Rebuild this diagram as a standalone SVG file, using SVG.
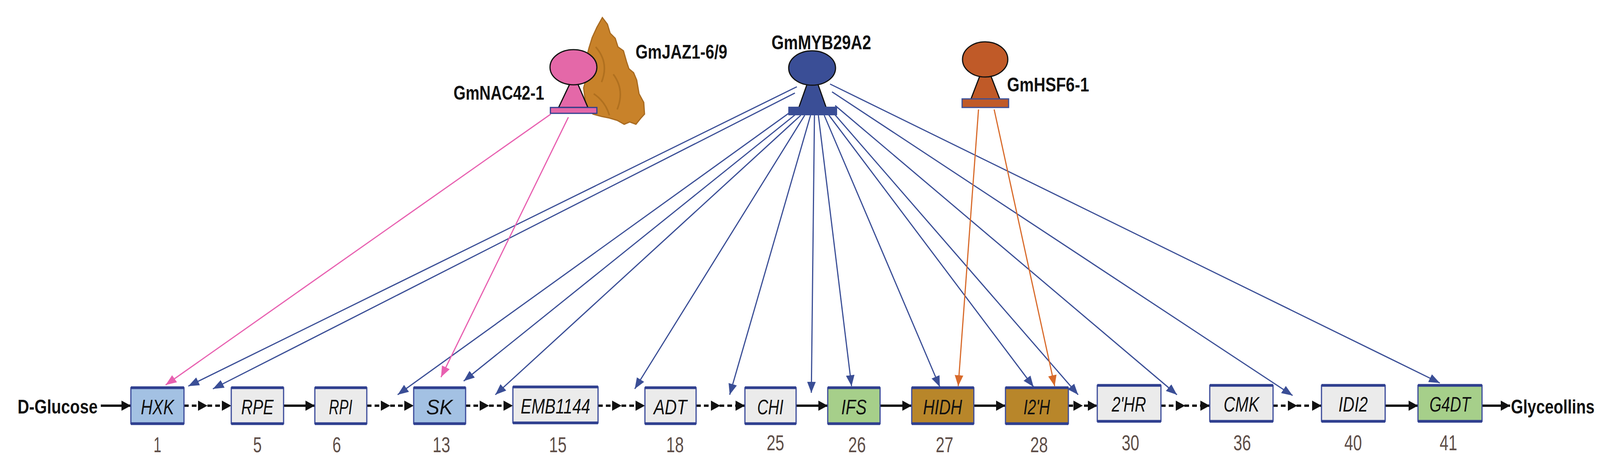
<svg xmlns="http://www.w3.org/2000/svg" width="4124" height="1200" viewBox="0 0 4124 1200">
<style>
.bx{stroke:#3a4a9a;stroke-width:3}
.bd{stroke:#2f3f8f;stroke-width:7}
.gt{font-family:"Liberation Sans",sans-serif;font-style:italic;font-size:54px;text-anchor:middle;fill:#111}
.num{font-family:"Liberation Sans",sans-serif;font-size:56px;text-anchor:middle;fill:#5e4e48}
.lb{font-family:"Liberation Sans",sans-serif;font-weight:bold;font-size:50px;fill:#111}
.sol{stroke:#111;stroke-width:6;fill:none;marker-end:url(#ak)}
.das{stroke:#111;stroke-width:6;fill:none;stroke-dasharray:12 8;marker-mid:url(#ak);marker-end:url(#ak)}
.bl{stroke:#3a4e96;stroke-width:3;fill:none;marker-end:url(#ab)}
.pk{stroke:#e860b0;stroke-width:3;fill:none;marker-end:url(#ap)}
.or{stroke:#d86a2a;stroke-width:3;fill:none;marker-end:url(#ao)}
</style>
<defs>
<marker id="ak" markerUnits="userSpaceOnUse" markerWidth="26" markerHeight="26" refX="24" refY="13" orient="auto"><path d="M0,0 L24,13 L0,26 Z" fill="#111"/></marker>
<marker id="ab" markerUnits="userSpaceOnUse" markerWidth="30" markerHeight="26" refX="28" refY="13" orient="auto"><path d="M0,2 L28,13 L0,24 Z" fill="#3a4e96"/></marker>
<marker id="ap" markerUnits="userSpaceOnUse" markerWidth="30" markerHeight="26" refX="28" refY="13" orient="auto"><path d="M0,2 L28,13 L0,24 Z" fill="#e860b0"/></marker>
<marker id="ao" markerUnits="userSpaceOnUse" markerWidth="30" markerHeight="26" refX="28" refY="13" orient="auto"><path d="M0,2 L28,13 L0,24 Z" fill="#d86a2a"/></marker>
</defs>
<rect width="4124" height="1200" fill="#fff"/>

<g id="connectors">
<path class="sol" d="M258,1038 L335,1038"/>
<path class="das" d="M471,1038 L531,1038 L592,1038"/>
<path class="sol" d="M726,1038 L806,1038"/>
<path class="das" d="M939,1038 L999,1038 L1059,1038"/>
<path class="das" d="M1192,1038 L1252,1038 L1313,1038"/>
<path class="das" d="M1531,1038 L1591,1038 L1651,1038"/>
<path class="das" d="M1782,1038 L1844,1038 L1907,1038"/>
<path class="sol" d="M2038,1038 L2119,1038"/>
<path class="sol" d="M2253,1038 L2334,1038"/>
<path class="sol" d="M2493,1038 L2574,1038"/>
<path class="das" d="M2735,1038 L2772,1038 L2809,1038"/>
<path class="das" d="M2972,1038 L3034,1038 L3097,1038"/>
<path class="das" d="M3259,1038 L3321,1038 L3383,1038"/>
<path class="sol" d="M3546,1038 L3630,1038"/>
<path class="sol" d="M3794,1038 L3866,1038"/>

<path class="bl" d="M2040,222 L482,988"/>
<path class="bl" d="M2035,238 L545,995"/>
<path class="bl" d="M2030,282 L1018,1010"/>
<path class="bl" d="M2040,290 L1187,975"/>
<path class="bl" d="M2050,295 L1268,1010"/>
<path class="bl" d="M2060,295 L1625,995"/>
<path class="bl" d="M2075,295 L1868,1010"/>
<path class="bl" d="M2085,295 L2077,1005"/>
<path class="bl" d="M2095,295 L2180,988"/>
<path class="bl" d="M2110,295 L2406,990"/>
<path class="bl" d="M2120,292 L2646,990"/>
<path class="bl" d="M2130,285 L2760,1010"/>
<path class="bl" d="M2138,270 L3013,1010"/>
<path class="bl" d="M2130,235 L3309,1012"/>
<path class="bl" d="M2125,215 L3686,980"/>

<path class="pk" d="M1410,292 L424,985"/>
<path class="pk" d="M1455,300 L1129,965"/>
<path class="or" d="M2505,280 L2453,988"/>
<path class="or" d="M2545,280 L2700,988"/>
</g>

<text class="lb" x="45" y="1058" textLength="205" lengthAdjust="spacingAndGlyphs">D-Glucose</text>
<text class="lb" x="3868" y="1058" textLength="214" lengthAdjust="spacingAndGlyphs">Glyceollins</text>

<g id="HXK"><rect class="bx" x="335" y="992" width="136" height="92" fill="#a3c1e3"/><line class="bd" x1="335" y1="992" x2="471" y2="992"/><line class="bd" x1="335" y1="1084" x2="471" y2="1084"/><text class="gt" x="403" y="1060" textLength="85" lengthAdjust="spacingAndGlyphs">HXK</text><text class="num" x="403" y="1157" textLength="20" lengthAdjust="spacingAndGlyphs">1</text></g>
<g id="RPE"><rect class="bx" x="592" y="992" width="134" height="92" fill="#ebebeb"/><line class="bd" x1="592" y1="992" x2="726" y2="992"/><line class="bd" x1="592" y1="1084" x2="726" y2="1084"/><text class="gt" x="659" y="1060" textLength="83" lengthAdjust="spacingAndGlyphs">RPE</text><text class="num" x="659" y="1157" textLength="22" lengthAdjust="spacingAndGlyphs">5</text></g>
<g id="RPI"><rect class="bx" x="806" y="992" width="133" height="92" fill="#ebebeb"/><line class="bd" x1="806" y1="992" x2="939" y2="992"/><line class="bd" x1="806" y1="1084" x2="939" y2="1084"/><text class="gt" x="872" y="1060" textLength="60" lengthAdjust="spacingAndGlyphs">RPI</text><text class="num" x="862" y="1157" textLength="22" lengthAdjust="spacingAndGlyphs">6</text></g>
<g id="SK"><rect class="bx" x="1059" y="992" width="133" height="92" fill="#a3c1e3"/><line class="bd" x1="1059" y1="992" x2="1192" y2="992"/><line class="bd" x1="1059" y1="1084" x2="1192" y2="1084"/><text class="gt" x="1125" y="1060" textLength="68" lengthAdjust="spacingAndGlyphs">SK</text><text class="num" x="1130" y="1157" textLength="45" lengthAdjust="spacingAndGlyphs">13</text></g>
<g id="EMB1144"><rect class="bx" x="1313" y="990" width="218" height="92" fill="#ebebeb"/><line class="bd" x1="1313" y1="990" x2="1531" y2="990"/><line class="bd" x1="1313" y1="1082" x2="1531" y2="1082"/><text class="gt" x="1422" y="1058" textLength="178" lengthAdjust="spacingAndGlyphs">EMB1144</text><text class="num" x="1428" y="1157" textLength="45" lengthAdjust="spacingAndGlyphs">15</text></g>
<g id="ADT"><rect class="bx" x="1651" y="992" width="131" height="92" fill="#ebebeb"/><line class="bd" x1="1651" y1="992" x2="1782" y2="992"/><line class="bd" x1="1651" y1="1084" x2="1782" y2="1084"/><text class="gt" x="1716" y="1060" textLength="85" lengthAdjust="spacingAndGlyphs">ADT</text><text class="num" x="1728" y="1157" textLength="45" lengthAdjust="spacingAndGlyphs">18</text></g>
<g id="CHI"><rect class="bx" x="1907" y="992" width="131" height="92" fill="#ebebeb"/><line class="bd" x1="1907" y1="992" x2="2038" y2="992"/><line class="bd" x1="1907" y1="1084" x2="2038" y2="1084"/><text class="gt" x="1972" y="1060" textLength="67" lengthAdjust="spacingAndGlyphs">CHI</text><text class="num" x="1985" y="1152" textLength="45" lengthAdjust="spacingAndGlyphs">25</text></g>
<g id="IFS"><rect class="bx" x="2119" y="992" width="134" height="92" fill="#a6cf8a"/><line class="bd" x1="2119" y1="992" x2="2253" y2="992"/><line class="bd" x1="2119" y1="1084" x2="2253" y2="1084"/><text class="gt" x="2186" y="1060" textLength="65" lengthAdjust="spacingAndGlyphs">IFS</text><text class="num" x="2194" y="1157" textLength="45" lengthAdjust="spacingAndGlyphs">26</text></g>
<g id="HIDH"><rect class="bx" x="2334" y="992" width="159" height="92" fill="#b8862a"/><line class="bd" x1="2334" y1="992" x2="2493" y2="992"/><line class="bd" x1="2334" y1="1084" x2="2493" y2="1084"/><text class="gt" x="2413" y="1060" textLength="100" lengthAdjust="spacingAndGlyphs">HIDH</text><text class="num" x="2418" y="1157" textLength="45" lengthAdjust="spacingAndGlyphs">27</text></g>
<g id="I2H"><rect class="bx" x="2574" y="992" width="161" height="92" fill="#b8862a"/><line class="bd" x1="2574" y1="992" x2="2735" y2="992"/><line class="bd" x1="2574" y1="1084" x2="2735" y2="1084"/><text class="gt" x="2654" y="1060" textLength="68" lengthAdjust="spacingAndGlyphs">I2'H</text><text class="num" x="2660" y="1157" textLength="45" lengthAdjust="spacingAndGlyphs">28</text></g>
<g id="HR"><rect class="bx" x="2809" y="986" width="163" height="92" fill="#ebebeb"/><line class="bd" x1="2809" y1="986" x2="2972" y2="986"/><line class="bd" x1="2809" y1="1078" x2="2972" y2="1078"/><text class="gt" x="2890" y="1053" textLength="88" lengthAdjust="spacingAndGlyphs">2'HR</text><text class="num" x="2894" y="1152" textLength="45" lengthAdjust="spacingAndGlyphs">30</text></g>
<g id="CMK"><rect class="bx" x="3097" y="986" width="162" height="92" fill="#ebebeb"/><line class="bd" x1="3097" y1="986" x2="3259" y2="986"/><line class="bd" x1="3097" y1="1078" x2="3259" y2="1078"/><text class="gt" x="3178" y="1053" textLength="91" lengthAdjust="spacingAndGlyphs">CMK</text><text class="num" x="3180" y="1152" textLength="45" lengthAdjust="spacingAndGlyphs">36</text></g>
<g id="IDI2"><rect class="bx" x="3383" y="986" width="163" height="92" fill="#ebebeb"/><line class="bd" x1="3383" y1="986" x2="3546" y2="986"/><line class="bd" x1="3383" y1="1078" x2="3546" y2="1078"/><text class="gt" x="3464" y="1053" textLength="75" lengthAdjust="spacingAndGlyphs">IDI2</text><text class="num" x="3464" y="1152" textLength="45" lengthAdjust="spacingAndGlyphs">40</text></g>
<g id="G4DT"><rect class="bx" x="3630" y="986" width="164" height="92" fill="#a6cf8a"/><line class="bd" x1="3630" y1="986" x2="3794" y2="986"/><line class="bd" x1="3630" y1="1078" x2="3794" y2="1078"/><text class="gt" x="3712" y="1053" textLength="105" lengthAdjust="spacingAndGlyphs">G4DT</text><text class="num" x="3708" y="1152" textLength="45" lengthAdjust="spacingAndGlyphs">41</text></g>

<g id="GmJAZ1-6-9">
<path d="M1542,45 L1555,62 L1562,85 L1575,98 L1582,120 L1596,130 L1604,158 L1610,176 L1622,186 L1630,205 L1636,240 L1648,262 L1650,292 L1640,303 L1628,318 L1612,312 L1598,318 L1580,308 L1560,302 L1540,298 L1518,292 L1500,270 L1494,225 L1506,182 L1500,152 L1508,122 L1516,96 L1528,70 Z" fill="#c8822a" stroke="#a86a20" stroke-width="3"/>
<path d="M1525,120 Q1560,160 1540,210 M1570,190 Q1600,230 1580,280 M1520,240 Q1550,260 1560,295" stroke="#b0701f" stroke-width="4" fill="none"/>
<text class="lb" x="1627" y="150" textLength="235" lengthAdjust="spacingAndGlyphs">GmJAZ1-6/9</text>
</g>
<g id="GmNAC42-1">
<path d="M1460,212 L1430,275 L1505,275 L1478,212 Z" fill="#e468a8" stroke="#111" stroke-width="3"/>
<ellipse cx="1468" cy="172" rx="60" ry="45" fill="#e468a8" stroke="#111" stroke-width="3"/>
<rect x="1409" y="275" width="119" height="15" fill="#e468a8" stroke="#2f3f8f" stroke-width="3"/>
<text class="lb" x="1161" y="255" textLength="232" lengthAdjust="spacingAndGlyphs">GmNAC42-1</text>
</g>
<g id="GmMYB29A2">
<path d="M2068,210 L2045,275 L2115,275 L2092,210 Z" fill="#3a4e96" stroke="#111" stroke-width="3"/>
<ellipse cx="2079" cy="174" rx="60" ry="44" fill="#3a4e96" stroke="#111" stroke-width="3"/>
<rect x="2018" y="273" width="125" height="22" fill="#3a4e96"/>
<text class="lb" x="1975" y="126" textLength="255" lengthAdjust="spacingAndGlyphs">GmMYB29A2</text>
</g>
<g id="GmHSF6-1">
<path d="M2510,190 L2485,255 L2560,255 L2535,190 Z" fill="#c05a28" stroke="#111" stroke-width="3"/>
<ellipse cx="2522" cy="152" rx="58" ry="45" fill="#c05a28" stroke="#111" stroke-width="3"/>
<rect x="2463" y="253" width="119" height="22" fill="#c05a28" stroke="#3a4e96" stroke-width="3"/>
<text class="lb" x="2578" y="234" textLength="210" lengthAdjust="spacingAndGlyphs">GmHSF6-1</text>
</g>
</svg>
